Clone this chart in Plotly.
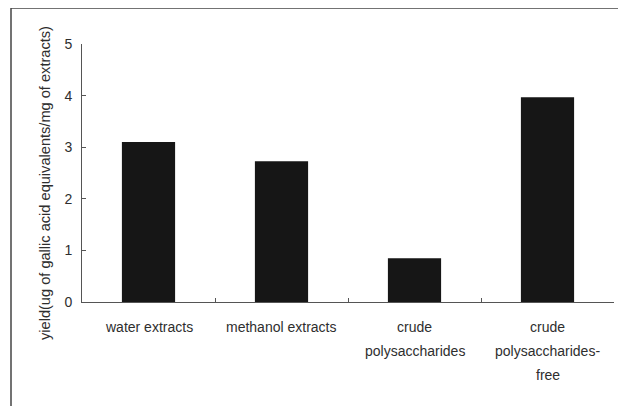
import plotly.graph_objects as go

categories = ["water extracts", "methanol extracts", "crude polysaccharides", "crude polysaccharides-free"]
tick_labels = [["water extracts"], ["methanol extracts"], ["crude", "polysaccharides"],
               ["crude", "polysaccharides-", "free"]]
yield_values = [3.1, 2.73, 0.85, 3.97]
y_ticks = [0, 1, 2, 3, 4, 5]
y_title = "yield(ug of gallic acid equivalents/mg of extracts)"

# page has an 8px body margin; work in screen pixels and convert
OFF = 8
W, H = 626 - OFF, 406 - OFF
x_left, x_right, y_top, y_bottom = 82, 614, 44, 302
L, T = x_left - OFF, y_top - OFF
R, B = 626 - x_right, 406 - y_bottom
pw, ph = x_right - x_left, y_bottom - y_top

def pxx(px):
    return (px - x_left) / pw

def pxy(py):
    return (y_bottom - py) / ph

txt = "#2e2e2e"
fam = "Liberation Sans, Arial, sans-serif"

fig = go.Figure()
fig.add_trace(go.Bar(
    x=categories, y=yield_values, width=0.4,
    marker=dict(color="#161616", line=dict(width=0)),
))

annotations = []
line_y = [327, 351, 375]
for cat, lines in zip(categories, tick_labels):
    for i, ln in enumerate(lines):
        annotations.append(dict(
            x=cat, xref="x", y=pxy(line_y[i]), yref="paper",
            text=ln, showarrow=False, xanchor="center", yanchor="middle",
            font=dict(family=fam, size=14, color=txt),
        ))
annotations.append(dict(
    x=pxx(45), xref="paper", y=pxy(183), yref="paper",
    text=y_title, textangle=-90, showarrow=False,
    xanchor="center", yanchor="middle",
    font=dict(family=fam, size=14.6, color=txt),
))

fig.update_layout(
    width=W, height=H,
    margin=dict(l=L, r=R, t=T, b=B, autoexpand=False),
    paper_bgcolor="white", plot_bgcolor="white",
    showlegend=False,
    font=dict(family=fam, size=12, color=txt),
    xaxis=dict(
        type="category",
        tickson="boundaries", ticks="inside", ticklen=4, tickcolor="#555",
        showticklabels=False,
        showline=True, linecolor="#555", linewidth=1,
        showgrid=False, zeroline=False, automargin=False,
    ),
    yaxis=dict(
        range=[0, 5], tickvals=y_ticks,
        ticks="inside", ticklen=4, tickcolor="#555",
        showline=True, linecolor="#555", linewidth=1,
        showgrid=False, zeroline=False,
        tickfont=dict(family=fam, size=14, color=txt),
        ticklabelstandoff=6,
        automargin=False,
    ),
    annotations=annotations,
    shapes=[
        dict(type="line", xref="paper", yref="paper",
             x0=pxx(11), x1=pxx(11), y0=pxy(8), y1=pxy(420),
             line=dict(color="#444", width=1.5)),
        dict(type="line", xref="paper", yref="paper",
             x0=pxx(11), x1=pxx(640), y0=pxy(8), y1=pxy(8),
             line=dict(color="#444", width=1.5)),
    ],
)

fig.write_html("out.html")
